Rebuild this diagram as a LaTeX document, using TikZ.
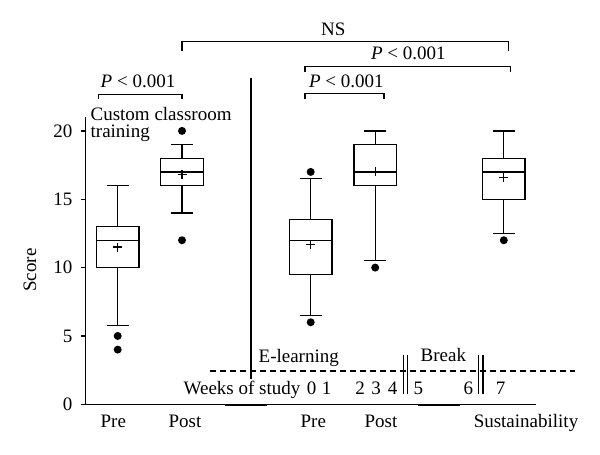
\documentclass[tikz,border=0pt]{standalone}
\usepackage{fontspec}
\setmainfont{Liberation Serif}
\newcommand\mybxp[7]{% cx, q1, med, q3, mean, wlo, whi
  \draw (#1-21.3,#2) rectangle (#1+21.3,#4);
  \draw (#1-21.3,#3) -- (#1+21.3,#3);
  \draw (#1,#4) -- (#1,#7);
  \draw (#1-11,#7) -- (#1+11,#7);
  \draw (#1,#2) -- (#1,#6);
  \draw (#1-11,#6) -- (#1+11,#6);
  \draw (#1-4.5,#5) -- (#1+4.5,#5);
  \draw (#1,#5) ++(0,-4.5pt) -- ++(0,9pt);
}
\begin{document}
\begin{tikzpicture}[x=1pt,y=1pt,line width=1.3pt,
  lbl/.style={font=\fontsize{19}{23}\selectfont, inner sep=0pt},
  outl/.style={fill=black},
  dashln/.style={dash pattern=on 6pt off 4pt}]
\useasboundingbox (0,0) rectangle (600,455);
\fill[white] (0,0) rectangle (600,455);

\begin{scope}[yshift=50.7pt, y=13.67pt]
  % axes
  \draw (85.7,0) -- (85.7,21.0);
  \draw (85.7,0) -- (536,0);
  \foreach \s in {0,5,10,15,20}{
    \draw (85.7,\s) -- ++(-5pt,0);
    \node[lbl,anchor=east] (tick\s) at (73,\s) {\s};
  }
  % boxes
  \mybxp{117.7}{10}{12}{13}{11.5}{5.75}{16}
  \fill[outl] (117.7,5) circle (4pt);
  \fill[outl] (117.7,4) circle (4pt);
  \mybxp{182}{16}{17}{18}{16.8}{14}{19}
  \fill[outl] (182,20) circle (4pt);
  \fill[outl] (182,12) circle (4pt);
  \mybxp{310.7}{9.5}{12}{13.5}{11.7}{6.5}{16.5}
  \fill[outl] (310.7,17) circle (4pt);
  \fill[outl] (310.7,6) circle (4pt);
  \mybxp{375.2}{16}{17}{19}{17}{10.5}{20}
  \fill[outl] (375.2,10) circle (4pt);
  \mybxp{503.8}{15}{17}{18}{16.6}{12.5}{20}
  \fill[outl] (503.8,12) circle (4pt);
\end{scope}

% thicker axis pieces
\draw[line width=2.2pt] (225,50.2) -- (267,50.2);
\draw[line width=2.2pt] (418,50.2) -- (460,50.2);

% brackets
\draw (98.7,356.3) -- (98.7,360.7) -- (182,360.7) -- (182,356.3);
\node[lbl,anchor=base] (p1) at (138,367.7) {\textit{P} < 0.001};
\draw (182,404) -- (182,413.7) -- (508.3,413.7) -- (508.3,404);
\node[lbl,anchor=base] (ns) at (333.3,419) {NS};
\draw (305,383) -- (305,388.3) -- (510.3,388.3) -- (510.3,383);
\node[lbl,anchor=base] (p2) at (408.3,395) {\textit{P} < 0.001};
\draw (305,356) -- (305,361.3) -- (384,361.3) -- (384,356);
\node[lbl,anchor=base] (p3) at (346.3,367.7) {\textit{P} < 0.001};

% texts
\node[lbl,anchor=north west,align=left,font=\fontsize{19}{17.5}\selectfont] (cc) at (90,348.8) {Custom classroom\\training};
\node[lbl,rotate=90] (score) at (30,185) {Score};

\node[lbl,anchor=base] (x1) at (113.3,27.7) {Pre};
\node[lbl,anchor=base] (x2) at (185,27.7) {Post};
\node[lbl,anchor=base] (x3) at (313.3,27.7) {Pre};
\node[lbl,anchor=base] (x4) at (381,27.7) {Post};
\node[lbl,anchor=base] (x5) at (526,27.7) {Sustainability};

% separator and timeline
\draw (251,76) -- (251,377);
\draw[dashln] (210,84) -- (575,84);
\node[lbl,anchor=base west] (el) at (258,92.3) {E-learning};
\node[lbl,anchor=base west] (br) at (420,93.3) {Break};
\draw (403.5,61) -- (403.5,100);
\draw (407.5,61) -- (407.5,100);
\draw (478.3,61) -- (478.3,100);
\draw (483,61) -- (483,100);
\node[lbl,anchor=base west] (wk) at (183,60) {Weeks of study};
\foreach \n/\xx in {0/311.7,1/326.7,2/360,3/376,4/392.7,5/418.3,6/468.3,7/500.7}{
  \node[lbl,anchor=base] (w\n) at (\xx,60) {\n};
}
\end{tikzpicture}
\end{document}
